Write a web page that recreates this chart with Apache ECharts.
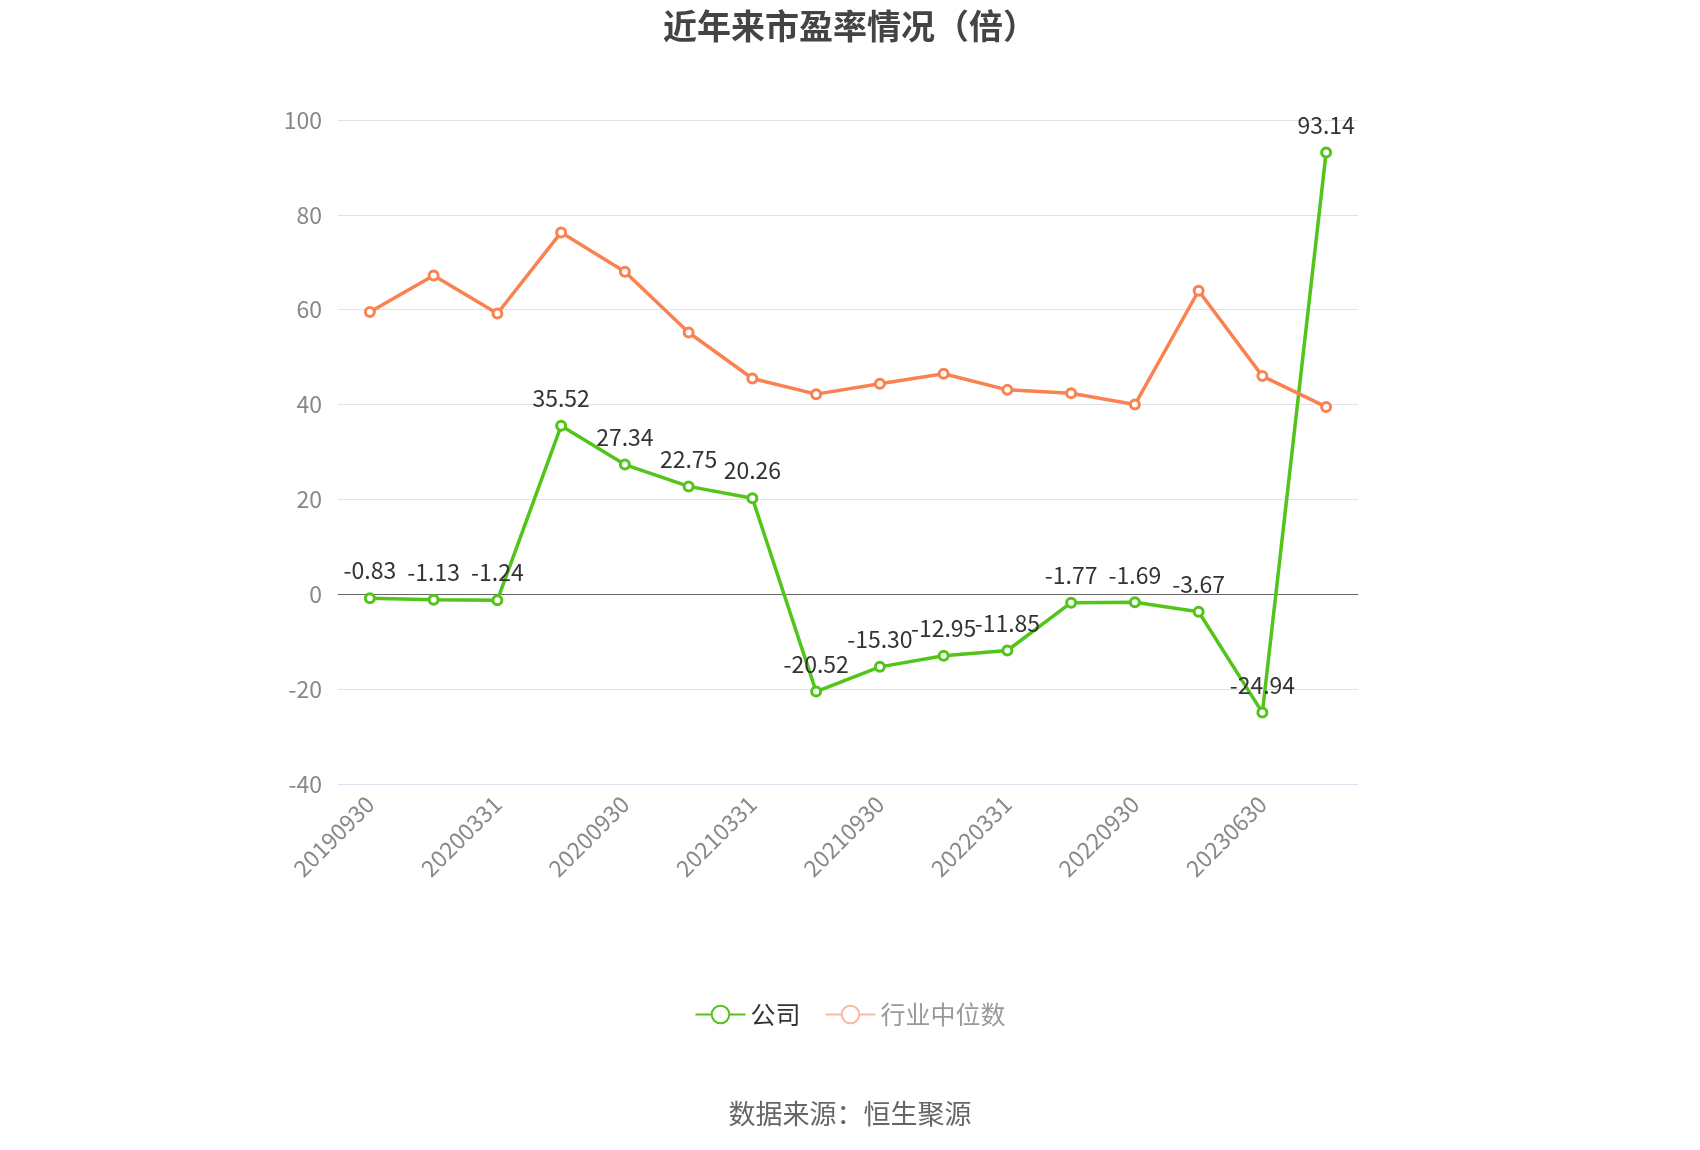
<!DOCTYPE html>
<html><head><meta charset="utf-8">
<script src="https://cdn.jsdelivr.net/npm/echarts@6/dist/echarts.min.js"></script>
<style>html,body{margin:0;padding:0;background:#fff}#c{width:1700px;height:1150px}</style>
</head><body><div id="c"></div>
<script>
const categories=['20190930','20191231','20200331','20200630','20200930','20201231','20210331','20210630','20210930','20211231','20220331','20220630','20220930','20230331','20230630','20230930'];
const company=[-0.83,-1.13,-1.24,35.52,27.34,22.75,20.26,-20.52,-15.30,-12.95,-11.85,-1.77,-1.69,-3.67,-24.94,93.14];
const industry=[59.5,67.2,59.2,76.3,68.0,55.2,45.5,42.2,44.4,46.5,43.1,42.4,40.0,64.0,46.0,39.5];
const yTicks={min:-40,max:100,interval:20};
const font='"Noto Sans CJK SC","Noto Sans",sans-serif';
const chart=echarts.init(document.getElementById('c'));
chart.setOption({
  textStyle:{fontFamily:font},
  title:{text:'近年来市盈率情况（倍）',left:'center',top:4,textStyle:{fontSize:34,fontWeight:'bold',color:'#444',fontFamily:font}},
  grid:{left:338,right:342,top:120,bottom:366},
  legend:{bottom:118,itemWidth:50,itemHeight:22,itemGap:24,textStyle:{fontSize:25,color:'#333'},
    data:[{name:'公司'},{name:'行业中位数',textStyle:{color:'#999'},itemStyle:{color:'#fff',borderColor:'#fbb8a0'},lineStyle:{color:'#fbb8a0'}}]},
  graphic:[{type:'text',left:'center',top:1100,style:{text:'数据来源：恒生聚源',fontSize:27,fill:'#666',fontFamily:font}}],
  xAxis:{type:'category',data:categories,boundaryGap:true,
    axisLine:{lineStyle:{color:'#666'}},axisTick:{interval:1,alignWithLabel:true,length:6,lineStyle:{color:'#666'}},
    axisLabel:{interval:1,rotate:45,fontSize:23,color:'#888',margin:16}},
  yAxis:{type:'value',min:yTicks.min,max:yTicks.max,interval:yTicks.interval,
    axisLine:{show:false},axisTick:{show:false},
    axisLabel:{fontSize:23,color:'#888',margin:16},splitLine:{lineStyle:{color:'#dde3ee'}}},
  series:[
    {name:'公司',type:'line',data:company,z:3,symbol:'circle',symbolSize:9,
      lineStyle:{color:'#52c41a',width:3.5},itemStyle:{color:'#fff',borderColor:'#52c41a',borderWidth:3},
      label:{show:true,position:'top',fontSize:23,color:'#333',distance:10,formatter:p=>p.value.toFixed(2)}},
    {name:'行业中位数',type:'line',data:industry,symbol:'circle',symbolSize:9,
      lineStyle:{color:'#fa8150',width:3.5},itemStyle:{color:'#fff',borderColor:'#fa8150',borderWidth:3}}
  ]
});
</script></body></html>
